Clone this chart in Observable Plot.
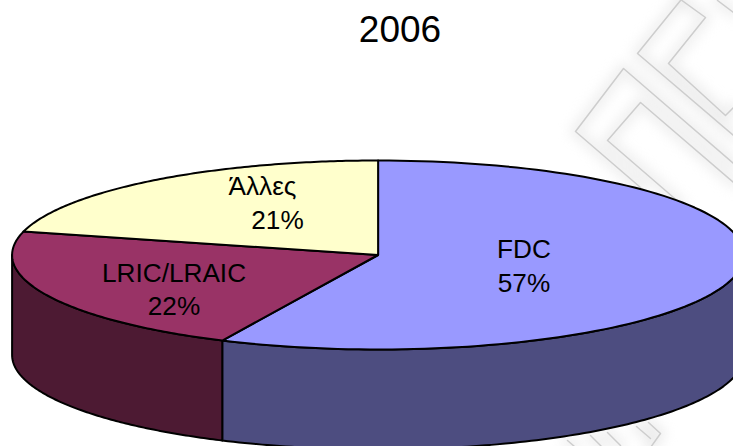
<!DOCTYPE html>
<html>
<head>
<meta charset="utf-8">
<script src="https://cdn.jsdelivr.net/npm/d3@7"></script>
<script src="https://cdn.jsdelivr.net/npm/@observablehq/plot@0.6"></script>
<style>
html,body{margin:0;padding:0;background:#fff;overflow:hidden}
svg{display:block}
</style>
</head>
<body>
<div id="chart"></div>
<script>
const categories = ["FDC", "LRIC/LRAIC", "Άλλες"];
const shares = [57, 22, 21];
const topColors = ["#9999FF", "#993366", "#FFFFCC"];
const sideColors = ["#4D4D80", "#4D1A33", "#808066"];
const chartTitle = "2006";

const W = 733, H = 446, CX = 377.6, CY = 254.5, RX = 366, RY = 94.5, DEPTH = 100;
const px = x => (x - CX) / RX;
const py = y => (CY - y) / RY;
const drop = DEPTH / RY;
const font = "'Liberation Sans', Arial, sans-serif";

// angular extents, clockwise from 12 o'clock
const total = d3.sum(shares);
let acc = 0;
const extents = shares.map(s => { const a0 = acc; acc += s / total * 2 * Math.PI; return [a0, acc]; });
const arcPts = (a0, a1) => d3.range(0, 121).map(i => {
  const a = a0 + (a1 - a0) * i / 120;
  return [Math.sin(a), Math.cos(a)];
});

const tops = categories.flatMap((c, i) =>
  [[0, 0], ...arcPts(...extents[i])].map(([x, y]) => ({c, x, y})));

const walls = categories.flatMap((c, i) => {
  const a0 = Math.max(extents[i][0], Math.PI / 2);
  const a1 = Math.min(extents[i][1], 3 * Math.PI / 2);
  if (a1 <= a0) return [];
  const arc = arcPts(a0, a1);
  return [...arc, ...arc.slice().reverse().map(([x, y]) => [x, y - drop])].map(([x, y]) => ({c, x, y}));
});

// decorative backdrop
const backdropPaths = [
  [[733,163],[623,68],[575,131],[640,187]],
  [[733,182],[640,102],[607,140],[680,203]],
  [[680,0],[637,53],[733,135]],
  [[717,0],[733,12]],
  [[680,-1],[705,17],[668,63],[725,115],[733,107]],
  [[648,422],[660,433],[650,447]],
  [[636,426],[650,438]],
  [[607,432],[620,445]],
  [[590,435],[601,446]],
  [[567,440],[574,446]]
];
const backdrop = backdropPaths.flatMap((p, k) => p.map(([x, y]) => ({k, x: px(x), y: py(y)})));

const label = (text, x, y, size = 26.2) => Plot.text([text], {
  frameAnchor: "top-left", dx: x, dy: y, text: d => d,
  fontSize: size, fontFamily: font, fill: "#000", textAnchor: "middle", lineAnchor: "middle"
});

const chart = Plot.plot({
  width: W, height: H, margin: 0,
  x: {domain: [px(0), px(W)], range: [0, W], axis: null},
  y: {domain: [py(H), py(0)], range: [H, 0], axis: null},
  marks: [
    Plot.line(backdrop, {x: "x", y: "y", z: "k", stroke: "#e2e2e2", strokeWidth: 12, imageFilter: "blur(6px)", strokeOpacity: 0.5}),
    Plot.line(backdrop, {x: "x", y: "y", z: "k", stroke: "#cdcdcd", strokeWidth: 1.5}),
    Plot.line(walls, {x: "x", y: "y", z: "c", curve: "linear-closed", stroke: "#000", strokeWidth: 2,
      fill: d => sideColors[categories.indexOf(d.c)]}),
    Plot.line(tops, {x: "x", y: "y", z: "c", curve: "linear-closed", stroke: "#000", strokeWidth: 2,
      fill: d => topColors[categories.indexOf(d.c)]}),
    label(chartTitle, 399.5, 30, 37),
    label(categories[0], 523.5, 249.5),
    label(shares[0] + "%", 523.5, 283),
    label(categories[1], 173.5, 273),
    label(shares[1] + "%", 173.5, 306),
    label(categories[2], 262, 186.5),
    label(shares[2] + "%", 277, 220)
  ]
});
document.getElementById("chart").append(chart);
</script>
</body>
</html>
